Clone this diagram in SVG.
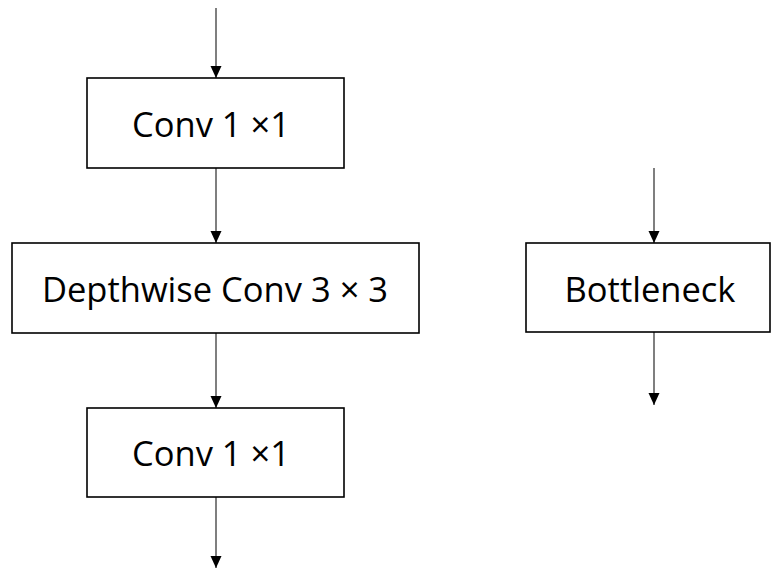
<svg xmlns="http://www.w3.org/2000/svg" width="771" height="569" viewBox="0 0 771 569">
<defs>
<style>
.box{fill:#fff;stroke:#000;stroke-width:1.6}
.lbl{font-family:"Open Sans","Liberation Sans",sans-serif;font-size:34.5px;fill:#000;text-anchor:middle}
.edge{stroke:#555;stroke-width:1.5;fill:none;marker-end:url(#ah)}
</style>
<marker id="ah" viewBox="0 0 12 12" refX="12" refY="6" markerWidth="12" markerHeight="12" markerUnits="userSpaceOnUse" orient="auto">
<path d="M0,0.5 L12,6 L0,11.5 Z" fill="#000"/>
</marker>
</defs>
<rect width="771" height="569" fill="#fff"/>
<g id="connectors">
<line class="edge" x1="216" y1="8" x2="216" y2="78"/>
<line class="edge" x1="216" y1="168" x2="216" y2="243"/>
<line class="edge" x1="216" y1="333" x2="216" y2="408"/>
<line class="edge" x1="216" y1="497" x2="216" y2="568"/>
<line class="edge" x1="654" y1="168" x2="654" y2="243"/>
<line class="edge" x1="654" y1="332" x2="654" y2="405"/>
</g>
<g id="conv1">
<rect class="box" x="87" y="78" width="257" height="90"/>
<text class="lbl" x="211" y="137">Conv 1 ×1</text>
</g>
<g id="depthwise">
<rect class="box" x="12" y="243" width="407" height="90"/>
<text class="lbl" x="215" y="302">Depthwise Conv 3 × 3</text>
</g>
<g id="conv2">
<rect class="box" x="87" y="408" width="257" height="89"/>
<text class="lbl" x="211" y="466">Conv 1 ×1</text>
</g>
<g id="bottleneck">
<rect class="box" x="526" y="243" width="244" height="89"/>
<text class="lbl" x="650" y="302">Bottleneck</text>
</g>
</svg>
